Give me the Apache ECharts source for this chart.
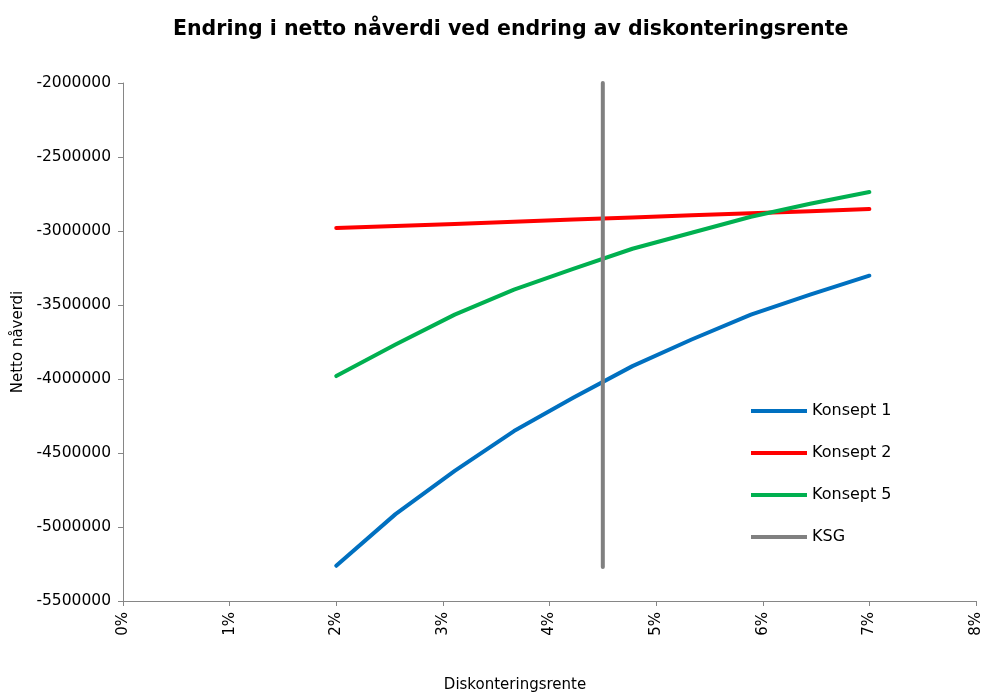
<!DOCTYPE html>
<html>
<head>
<meta charset="utf-8">
<script src="https://cdn.jsdelivr.net/npm/echarts@6/dist/echarts.min.js"></script>
<style>
  html, body { margin: 0; padding: 0; background: #ffffff; }
  #chart { width: 984px; height: 698px; }
</style>
</head>
<body>
<div id="chart"></div>
<script>
// Discount rates (fraction) at which each concept was evaluated
const rates = [0.02, 0.02556, 0.03111, 0.03667, 0.04222, 0.04778, 0.05333, 0.05889, 0.06444, 0.07];

// Net present value per concept (NOK)
const konsept1 = [-5262000, -4913000, -4621000, -4352000, -4127000, -3913000, -3733000, -3565000, -3430000, -3302000];
const konsept2 = [-2980000, -2966000, -2952000, -2937000, -2922000, -2908000, -2894000, -2880000, -2866000, -2852000];
const konsept5 = [-3980000, -3767000, -3565000, -3396000, -3256000, -3120000, -3012000, -2904000, -2816000, -2737000];

// KSG reference rate, drawn as a vertical marker line
const ksgRate = [0.045, 0.045];
const ksgValue = [-2000000, -5270000];

const seriesNames = ['Konsept 1', 'Konsept 2', 'Konsept 5', 'KSG'];
const seriesColors = ['#0070C0', '#FF0000', '#00B050', '#808080'];

const pairs = (xs, ys) => xs.map((x, i) => [x, ys[i]]);
const seriesData = [
  pairs(rates, konsept1),
  pairs(rates, konsept2),
  pairs(rates, konsept5),
  pairs(ksgRate, ksgValue)
];

const axisGray = '#868686';
const font = 'DejaVu Sans';

const chart = echarts.init(document.getElementById('chart'), null, { renderer: 'canvas' });
chart.setOption({
  animation: false,
  backgroundColor: '#ffffff',
  title: {
    text: 'Endring i netto nåverdi ved endring av diskonteringsrente',
    left: 168,
    top: 14,
    textStyle: { fontFamily: font, fontWeight: 'bold', fontSize: 20.5, color: '#000000' }
  },
  legend: {
    orient: 'vertical',
    left: 746,
    top: 398,
    itemWidth: 56,
    itemHeight: 4,
    itemGap: 26,
    icon: 'rect',
    data: seriesNames,
    textStyle: { fontFamily: font, fontSize: 16, color: '#000000' }
  },
  grid: { left: 123, right: 8, top: 83, bottom: 91, containLabel: false },
  xAxis: {
    type: 'value',
    min: 0,
    max: 0.08,
    interval: 0.01,
    name: 'Diskonteringsrente',
    nameLocation: 'middle',
    nameGap: 77,
    nameTextStyle: { fontFamily: font, fontSize: 15, color: '#000000', padding: [0, 69, 0, 0] },
    axisLine: { lineStyle: { color: axisGray, width: 1 } },
    axisTick: { show: true, length: 5, lineStyle: { color: axisGray } },
    axisLabel: {
      rotate: 90,
      margin: 11,
      fontFamily: font,
      fontSize: 15,
      color: '#000000',
      formatter: v => Math.round(v * 100) + '%'
    },
    splitLine: { show: false }
  },
  yAxis: {
    type: 'value',
    min: -5500000,
    max: -2000000,
    interval: 500000,
    name: 'Netto nåverdi',
    nameLocation: 'middle',
    nameGap: 97,
    nameTextStyle: { fontFamily: font, fontSize: 15, color: '#000000' },
    axisLine: { show: true, lineStyle: { color: axisGray, width: 1 } },
    axisTick: { show: true, length: 5, lineStyle: { color: axisGray } },
    axisLabel: {
      margin: 12,
      fontFamily: font,
      fontSize: 15.5,
      color: '#000000',
      formatter: v => String(v)
    },
    splitLine: { show: false }
  },
  series: seriesNames.map((name, i) => ({
    name: name,
    type: 'line',
    data: seriesData[i],
    showSymbol: false,
    symbol: 'none',
    smooth: false,
    color: seriesColors[i],
    lineStyle: { width: 4, color: seriesColors[i], cap: 'round', join: 'round' },
    z: 2 + i
  }))
});
</script>
</body>
</html>
